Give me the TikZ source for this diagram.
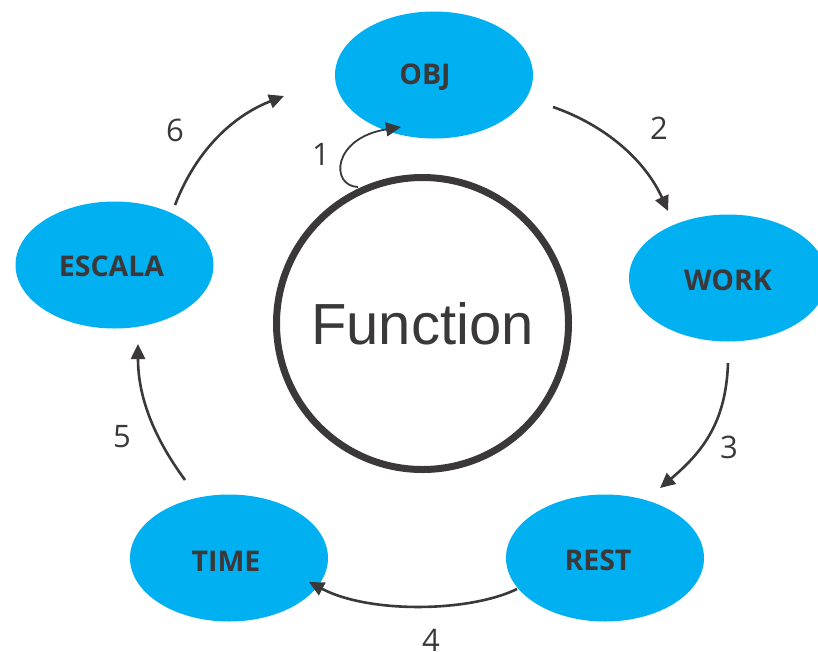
\documentclass[tikz,border=0pt]{standalone}
\usepackage{fontspec}
\setmainfont{Open Sans}
\newfontfamily\arialish{Liberation Sans}
\usetikzlibrary{arrows.meta,shapes.geometric}
\definecolor{cyanfill}{HTML}{00B0F0}
\definecolor{ink}{HTML}{3A3838}
\tikzset{
  stage/.style={ellipse, fill=cyanfill, minimum width=198pt, minimum height=127pt,
    inner sep=0pt},
  stagetext/.style={text=ink, font=\bfseries\fontsize{28.5}{31}\selectfont, inner sep=0pt},
  hub/.style={circle, draw=ink, line width=7pt, minimum size=292pt, inner sep=0pt,
    text=ink, font=\arialish\fontsize{58}{64}\selectfont},
  flow/.style={draw=ink, line width=2.6pt, -{Triangle[length=15pt,width=14pt]}},
  num/.style={text=ink, font=\fontsize{31}{34}\selectfont, inner sep=0pt}
}
\begin{document}
\begin{tikzpicture}[x=1pt,y=-1pt]
  \useasboundingbox (0,0) rectangle (818,651);

  % central hub
  \node[hub] (func) at (422.5,323.5) {Function};

  % the five stages around it, titles set slightly left of centre
  \node[stage, label={[stagetext, xshift=-9pt, yshift=-2pt]center:OBJ}]    (obj)    at (434,75)    {};
  \node[stage, label={[stagetext, xshift=0pt, yshift=-2pt]center:WORK}]    (work)   at (728,278)   {};
  \node[stage, label={[stagetext, xshift=-7pt, yshift=-2pt]center:REST}]   (rest)   at (605,558)   {};
  \node[stage, label={[stagetext, xshift=-3pt, yshift=-3pt]center:TIME}]   (time)   at (229,558)   {};
  \node[stage, label={[stagetext, xshift=-3pt, yshift=-1pt]center:ESCALA}] (escala) at (114.5,265) {};

  % arrow end points
  \coordinate (a1s) at (358,187);  \coordinate (a1e) at (401,127);
  \coordinate (a2s) at (553,107);  \coordinate (a2e) at (668,211);
  \coordinate (a3s) at (728,363);  \coordinate (a3e) at (660,488);
  \coordinate (a4s) at (517,589);  \coordinate (a4e) at (309,582);
  \coordinate (a5s) at (185,480);  \coordinate (a5e) at (138,344);
  \coordinate (a6s) at (175,205);  \coordinate (a6e) at (284,96);

  % cycle arrows
  \draw[flow, line width=1.8pt] (a1s) .. controls (330,186) and (332,138) .. (a1e);
  \draw[flow] (a2s) .. controls (605,125) and (645,160) .. (a2e);
  \draw[flow] (a3s) .. controls (726,420) and (705,450) .. (a3e);
  \draw[flow] (a4s) .. controls (470,612) and (370,614) .. (a4e);
  \draw[flow] (a5s) .. controls (152,435) and (138,395) .. (a5e);
  \draw[flow] (a6s) .. controls (197,148) and (235,115) .. (a6e);

  % step numbers
  \node[num] (n1) at (321,154) {1};
  \node[num] (n2) at (659,128) {2};
  \node[num] (n3) at (729,447) {3};
  \node[num] (n4) at (431,640) {4};
  \node[num] (n5) at (122,437) {5};
  \node[num] (n6) at (175,130) {6};
\end{tikzpicture}
\end{document}
